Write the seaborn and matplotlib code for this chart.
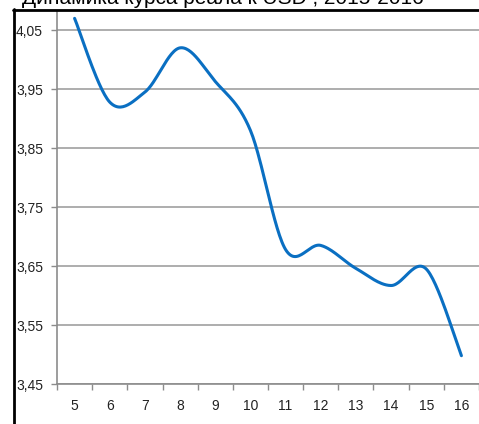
import numpy as np
import pandas as pd
import matplotlib
matplotlib.use("Agg")
import matplotlib.pyplot as plt
import seaborn as sns
from matplotlib.lines import Line2D
from matplotlib import font_manager

months = [5, 6, 7, 8, 9, 10, 11, 12, 13, 14, 15, 16]
rate = [4.070, 3.928, 3.945, 4.020, 3.963, 3.880, 3.678, 3.685, 3.646, 3.617, 3.645, 3.498]
y_ticks = [3.45, 3.55, 3.65, 3.75, 3.85, 3.95, 4.05]
title = "Динамика курса реала к USD , 2015-2016"


def smooth(xs, ys, n=30):
    # Excel-like smoothed line: cubic Bezier between points, Catmull-Rom tangents
    xs = np.asarray(xs, float)
    ys = np.asarray(ys, float)
    px = np.concatenate([[xs[0]], xs, [xs[-1]]])
    py = np.concatenate([[ys[0]], ys, [ys[-1]]])
    t = np.linspace(0, 1, n)[:, None]
    outx, outy = [], []
    for i in range(1, len(px) - 2):
        p0 = np.array([px[i], py[i]])
        p3 = np.array([px[i + 1], py[i + 1]])
        c1 = p0 + (np.array([px[i + 1], py[i + 1]]) - np.array([px[i - 1], py[i - 1]])) / 6
        c2 = p3 - (np.array([px[i + 2], py[i + 2]]) - np.array([px[i], py[i]])) / 6
        b = ((1 - t) ** 3) * p0 + 3 * ((1 - t) ** 2) * t * c1 + 3 * (1 - t) * t ** 2 * c2 + t ** 3 * p3
        outx.append(b[:, 0])
        outy.append(b[:, 1])
    return np.concatenate(outx), np.concatenate(outy)


idx = np.arange(len(months))
sx, sy = smooth(idx, rate)
df = pd.DataFrame({"pos": sx, "rate": sy})

sns.set_theme(style="white")
plt.rcParams["font.family"] = ["Liberation Sans", "DejaVu Sans"]

names = {f.name for f in font_manager.fontManager.ttflist}
tick_font = "Liberation Sans Narrow" if "Liberation Sans Narrow" in names else "Liberation Sans"
tick_size = 11 if tick_font == "Liberation Sans Narrow" else 10

W, H = 479, 424
fig = plt.figure(figsize=(W / 100, H / 100), dpi=100)
ax = fig.add_axes([57 / W, 1 - 384 / H, (479 - 57) / W, (384 - 11) / H])

sns.lineplot(data=df, x="pos", y="rate", ax=ax, color="#0a6fc2", lw=2.2, sort=False)

ax.set_xlim(-0.5, len(months) - 0.5)
ax.set_ylim(3.45, 4.05 + 19 / 585)
ax.set_yticks(y_ticks)
ax.set_yticklabels([f"{v:.2f}".replace(".", ",") for v in y_ticks],
                   fontsize=tick_size, family=tick_font, color="#222222")
ax.set_xticks(idx)
ax.set_xticklabels([str(m) for m in months], fontsize=tick_size, family=tick_font, color="#222222")
ax.set_xticks(np.arange(-0.5, len(months), 1), minor=True)
ax.tick_params(axis="x", which="major", length=0, pad=11)
ax.tick_params(axis="x", which="minor", length=4, color="#8c8c8c", width=1, direction="out", bottom=True)
ax.tick_params(axis="y", length=4, color="#8c8c8c", width=1, direction="out", left=True, pad=6)
ax.set_xlabel("")
ax.set_ylabel("")

ax.grid(axis="y", color="#a0a0a0", lw=1.2)
ax.grid(axis="x", visible=False)
for s in ["top", "right"]:
    ax.spines[s].set_visible(False)
for s in ["left", "bottom"]:
    ax.spines[s].set_color("#8c8c8c")
    ax.spines[s].set_linewidth(1.2)

# frame lines of the cropped chart
fig.add_artist(Line2D([14 / W, 14 / W], [0, 1 - 9 / H], color="black", lw=2, transform=fig.transFigure))
fig.add_artist(Line2D([13 / W, 1], [1 - 9.5 / H, 1 - 9.5 / H], color="black", lw=2, transform=fig.transFigure))
fig.text(22 / W, 1 - 4.5 / H, title, fontsize=15, va="baseline", ha="left", color="black")

fig.savefig("out.png", dpi=100)
